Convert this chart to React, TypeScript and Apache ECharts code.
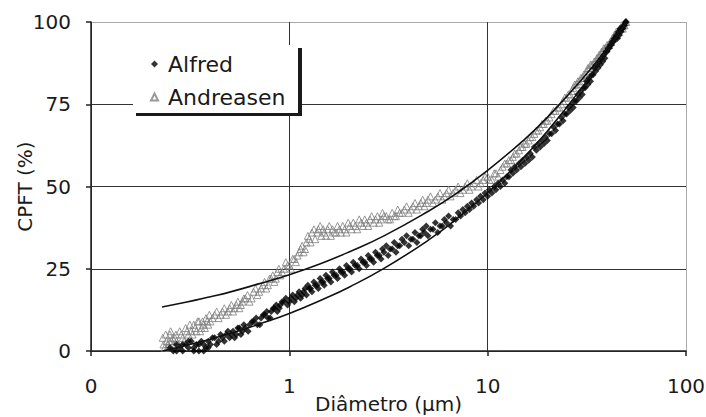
import React, { useEffect, useRef } from "react";
import * as echarts from "echarts";

// ---- data ----
const xTickLabels = ["0", "1", "10", "100"];
const yTicks = [0, 25, 50, 75, 100];

// Andreasen measured points (open triangles)
const andreasenD = [0.23,0.235,0.24,0.245,0.25,0.255,0.26,0.265,0.27,0.28,0.29,0.3,0.31,0.32,0.33,0.34,0.35,0.36,0.37,0.38,0.39,0.4,0.42,0.44,0.46,0.48,0.5,0.52,0.54,0.56,0.58,0.6,0.63,0.66,0.69,0.72,0.75,0.78,0.81,0.84,0.87,0.9,0.94,0.98,1.02,1.06,1.1,1.14,1.18,1.22,1.26,1.3,1.35,1.4,1.45,1.5,1.56,1.62,1.68,1.75,1.82,1.9,1.98,2.06,2.15,2.25,2.35,2.45,2.55,2.66,2.78,2.9,3.0,3.15,3.3,3.45,3.6,3.8,4.0,4.2,4.4,4.6,4.8,5.0,5.3,5.6,5.9,6.2,6.5,6.9,7.3,7.7,8.1,8.5,9.0,9.5,10,10.5,11,11.6,12.2,12.8,13.4,14,14.7,15.4,16.1,16.8,17.6,18.4,19.2,20,21,22,23,24,25,26,27,28,29,30,31,32,33,34,35,36,37,38,39,40,41,42,43,44,45,46,47,48,49,50];
const andreasenCPFT = [4,1,3,2,5,3,2,4,3,6,4,7,5,6,8,6,9,7,8,10,8,9,11,10,12,11,13,12,14,13,15,16,15,18,17,19,21,20,22,21,24,23,25,26,25,28,29,31,30,33,34,36,34,37,35,36,37,35,36,38,36,37,39,37,38,40,38,39,40,39,41,40,41,40,42,41,42,43,42,44,43,45,44,46,45,47,46,48,47,49,48,50,49,51,50,52,53,52,54,55,57,58,59,60,62,63,64,65,67,68,69,70,72,73,74,76,77,78,80,81,82,83,84,86,87,87,88,89,90,91,92,93,93,94,95,96,96,97,98,98,99,100];
const andreasenD2 = [0.232,0.238,0.243,0.248,0.252,0.258,0.262,0.268,0.275,0.285,0.295,0.305,0.315,0.325,0.335,0.345,0.355,0.365,0.375,0.385,0.395,0.41,0.43,0.45,0.47,0.49,0.51,0.53,0.55,0.57,0.59,0.615,0.645,0.675,0.705,0.735,0.765,0.795,0.825,0.855,0.885,0.92,0.96,1.0,1.04,1.08,1.12,1.16,1.2,1.24,1.28,1.33,1.38,1.43,1.48,1.53,1.59,1.65,1.72,1.79,1.86,1.94,2.02,2.1,2.2,2.3,2.4,2.5,2.6,2.72,2.84,2.95,3.08,3.22,3.38,3.52,3.7,3.9,4.1,4.3,4.5,4.7,4.9,5.15,5.45,5.75,6.05,6.35,6.7,7.1,7.5,7.9,8.3,8.8,9.2,9.7,10.2,10.8,11.3,11.9,12.5,13.1,13.7,14.4,15.0,15.7,16.4,17.2,18.0,18.8,19.6,20.5,21.5,22.5,23.5,24.5,25.5,26.5,27.5,28.5,29.5,30.5,31.5,32.5,33.5,34.5,35.5,36.5,37.5,38.5,39.5,40.5,41.5,42.5,43.5,44.5,45.5,46.5,47.5,48.5,49.5];
const andreasenCPFT2 = [2,5,1,3,6,4,1,5,2,5,3,6,8,5,7,9,6,9,7,9,11,10,12,11,13,12,14,13,15,14,16,17,16,19,18,20,19,22,23,22,25,24,27,26,28,27,30,32,31,35,33,37,36,38,37,35,38,37,36,37,38,36,38,39,37,39,40,38,41,40,39,42,41,40,41,43,42,44,43,45,44,46,45,47,46,48,47,49,48,50,49,51,50,52,51,53,52,54,53,56,57,58,60,61,62,63,65,66,67,69,70,71,73,74,75,77,78,79,81,82,83,84,85,86,87,88,89,90,91,92,92,93,94,95,96,97,97,98,99,99,100];

// Alfred measured points (filled diamonds)
const alfredD = [0.25,0.26,0.27,0.28,0.29,0.3,0.31,0.32,0.33,0.34,0.35,0.36,0.37,0.38,0.39,0.4,0.42,0.44,0.46,0.48,0.5,0.52,0.54,0.56,0.58,0.6,0.63,0.66,0.69,0.72,0.75,0.78,0.81,0.84,0.87,0.9,0.94,0.98,1.02,1.06,1.1,1.14,1.18,1.22,1.26,1.3,1.35,1.4,1.45,1.5,1.56,1.62,1.68,1.75,1.82,1.9,1.98,2.06,2.15,2.25,2.35,2.45,2.55,2.66,2.78,2.9,3.0,3.15,3.3,3.45,3.6,3.8,4.0,4.2,4.4,4.6,4.8,5.0,5.3,5.6,5.9,6.2,6.5,6.9,7.3,7.7,8.1,8.5,9.0,9.5,10,10.5,11,11.6,12.2,12.8,13.4,14,14.7,15.4,16.1,16.8,17.6,18.4,19.2,20,21,22,23,24,25,26,27,28,29,30,31,32,33,34,35,36,37,38,39,40,41,42,43,44,45,46,47,48,49,50];
const alfredCPFT = [1,0,2,1,0,2,1,3,1,2,0,3,2,1,3,2,4,3,4,5,4,6,5,7,6,7,8,9,8,10,11,10,12,13,12,14,15,14,16,15,17,16,18,17,19,18,20,19,21,20,22,21,23,22,24,23,25,24,26,25,27,26,28,27,29,28,30,29,31,30,32,33,32,34,33,35,36,35,37,36,38,39,38,40,41,42,43,44,45,46,47,48,49,50,51,53,54,55,56,57,58,59,61,62,63,64,66,67,69,70,72,73,74,76,77,78,80,81,82,84,85,86,87,88,89,91,92,93,94,95,95,96,97,98,99,100];
const alfredD2 = [0.27,0.29,0.31,0.33,0.35,0.37,0.39,0.41,0.43,0.45,0.47,0.49,0.51,0.53,0.55,0.57,0.59,0.62,0.65,0.68,0.71,0.74,0.77,0.8,0.83,0.86,0.89,0.92,0.96,1.0,1.04,1.08,1.12,1.16,1.2,1.24,1.28,1.33,1.38,1.43,1.48,1.53,1.59,1.65,1.72,1.79,1.86,1.94,2.02,2.1,2.2,2.3,2.4,2.5,2.6,2.72,2.84,2.95,3.08,3.22,3.38,3.52,3.7,3.9,4.1,4.3,4.5,4.7,4.9,5.15,5.45,5.75,6.05,6.35,6.7,7.1,7.5,7.9,8.3,8.8,9.2,9.7,10.2,10.8,11.3,11.9,12.5,13.1,13.7,14.4,15.0,15.7,16.4,17.2,18.0,18.8,19.6,20.5,21.5,22.5,23.5,24.5,25.5,26.5,27.5,28.5,29.5,30.5,31.5,32.5,33.5,34.5,35.5,36.5,37.5,38.5,39.5,40.5,41.5,42.5,43.5,44.5,45.5,46.5,47.5,48.5,49.5];
const alfredCPFT2 = [0,2,3,0,2,0,1,4,2,5,3,6,5,4,7,5,8,6,9,10,8,11,12,10,13,14,13,15,16,15,17,16,18,17,19,20,19,21,20,22,21,23,22,24,23,25,24,26,25,27,26,28,27,29,28,30,29,31,32,31,33,32,34,35,34,36,35,37,38,37,39,38,40,41,40,42,43,44,45,46,47,48,49,50,51,52,53,55,56,57,58,59,60,62,63,64,65,66,68,69,71,72,74,75,76,78,79,80,82,83,84,86,87,88,89,90,91,92,93,94,95,96,97,98,98,99,100];

// model curves (solid lines)
const andreasenModelD = [0.228,0.3,0.4,0.5,0.7,1,1.5,2,3,5,7,10,15,20,30,40,50];
const andreasenModelCPFT = [13.4,14.8,16.5,17.9,20.4,23.2,27.0,30.1,35.0,42.4,48.0,54.9,63.8,71.0,82.7,92.0,100];
const alfredModelD = [0.23,0.25,0.3,0.4,0.5,0.7,1,1.5,2,3,5,7,10,15,20,30,40,50];
const alfredModelCPFT = [0,0.5,1.7,3.6,5.3,8.1,11.4,15.9,19.4,25.1,33.6,40.2,48.1,58.4,66.8,80.2,90.9,100];

const pairs = (xs: number[], ys: number[]) => xs.map((x, i) => [x, ys[i]]);

const FONT = "DejaVu Sans";

export default function App() {
  const ref = useRef<HTMLDivElement>(null);
  useEffect(() => {
    if (!ref.current) return;
    const chart = echarts.init(ref.current, undefined, { renderer: "svg" });
    chart.setOption({
      animation: false,
      backgroundColor: "#ffffff",
      grid: { left: 91, right: 20, top: 22, bottom: 66, containLabel: false, outerBoundsMode: "none" },
      xAxis: {
        type: "log",
        logBase: 10,
        min: 0.1,
        max: 100,
        name: "Diâmetro (μm)",
        nameLocation: "middle",
        nameGap: 42,
        nameMoveOverlap: false,
        nameTextStyle: { fontFamily: FONT, fontSize: 20, color: "#1a1a1a", lineHeight: 22 },
        axisLine: { show: true, lineStyle: { color: "#222", width: 1.5 } },
        axisTick: { show: true, inside: false, length: 5, lineStyle: { color: "#222", width: 1.5 } },
        minorTick: { show: false },
        axisLabel: {
          margin: 25,
          fontFamily: FONT,
          fontSize: 20,
          color: "#1a1a1a",
          formatter: (v: number) => xTickLabels[Math.round(Math.log10(v)) + 1] ?? "",
        },
        splitLine: { show: true, lineStyle: { color: ["#333", "#333", "#333", "#aaa"], width: 1 } },
      },
      yAxis: {
        type: "value",
        min: yTicks[0],
        max: yTicks[yTicks.length - 1],
        interval: 25,
        name: "CPFT (%)",
        nameLocation: "middle",
        nameGap: 56,
        nameMoveOverlap: false,
        nameTextStyle: { fontFamily: FONT, fontSize: 20, color: "#1a1a1a" },
        axisLine: { show: true, lineStyle: { color: "#222", width: 1.5 } },
        axisTick: { show: true, inside: false, length: 5, lineStyle: { color: "#222", width: 1.5 } },
        axisLabel: { margin: 20, fontFamily: FONT, fontSize: 20, color: "#1a1a1a" },
        splitLine: { show: true, lineStyle: { color: ["#333", "#333", "#333", "#333", "#aaa"], width: 1 } },
      },
      legend: {
        data: [
          { name: "Alfred", icon: "diamond" },
          { name: "Andreasen", icon: "triangle" },
        ],
        orient: "vertical",
        left: 145,
        top: 48,
        itemGap: 11,
        itemWidth: 7,
        itemHeight: 7,
        z: 10,
        textStyle: { fontFamily: FONT, fontSize: 22, color: "#1a1a1a", padding: [0, 0, 0, 5] },
      },
      graphic: [
        { type: "rect", z: 5, shape: { x: 136, y: 48, width: 166, height: 68 }, style: { fill: "#1a1a1a" } },
        { type: "rect", z: 6, shape: { x: 133, y: 45, width: 165, height: 68 }, style: { fill: "#ffffff" } },
      ],
      series: [
        {
          name: "Andreasen",
          type: "scatter",
          symbol: "triangle",
          symbolSize: 7,
          itemStyle: { color: "rgba(255,255,255,0)", borderColor: "#808080", borderWidth: 1 },
          data: pairs(andreasenD, andreasenCPFT).concat(pairs(andreasenD2, andreasenCPFT2)),
          z: 2,
        },
        {
          name: "Alfred",
          type: "scatter",
          symbol: "diamond",
          symbolSize: 7,
          itemStyle: { color: "#000" },
          data: pairs(alfredD, alfredCPFT).concat(pairs(alfredD2, alfredCPFT2)),
          z: 3,
        },
        {
          name: "Andreasen model",
          type: "line",
          smooth: true,
          showSymbol: false,
          symbol: "none",
          lineStyle: { color: "#111", width: 1.6 },
          data: pairs(andreasenModelD, andreasenModelCPFT),
          z: 4,
        },
        {
          name: "Alfred model",
          type: "line",
          smooth: true,
          showSymbol: false,
          symbol: "none",
          lineStyle: { color: "#111", width: 1.6 },
          data: pairs(alfredModelD, alfredModelCPFT),
          z: 4,
        },
      ],
    });
    return () => chart.dispose();
  }, []);
  return <div ref={ref} style={{ width: 706, height: 417, position: "absolute", left: 0, top: 0 }} />;
}
